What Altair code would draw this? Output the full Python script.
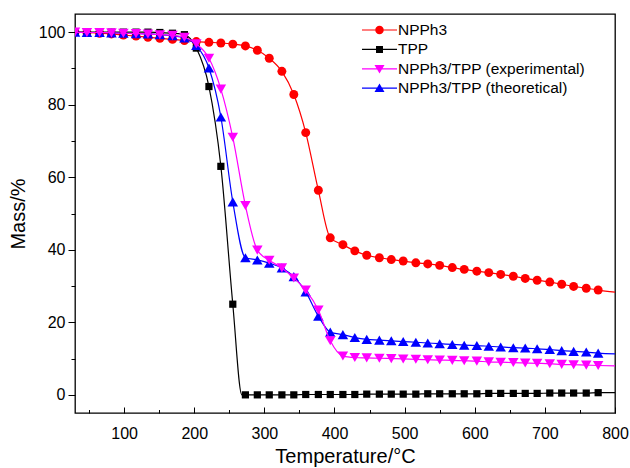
import altair as alt
import pandas as pd

# ---- data -----------------------------------------------------------------
series_names = ["NPPh3", "TPP", "NPPh3/TPP (experimental)", "NPPh3/TPP (theoretical)"]
series_colors = ["#ff0000", "#000000", "#ff00ff", "#0000ff"]
series_shapes = ["circle", "square", "triangle-down", "triangle-up"]

# temperatures (°C) of the plotted symbols
temps = [30, 47, 65, 82, 99, 117, 134, 151, 169, 186,
         203, 221, 238, 255, 273, 290, 307, 325, 342, 359,
         377, 394, 412, 429, 446, 464, 481, 498, 516, 533,
         550, 568, 585, 603, 620, 637, 655, 672, 689, 707,
         724, 741, 759, 776]

mass_npph3 = [100.0, 99.9, 99.7, 99.5, 99.2, 98.9, 98.6, 98.3, 98.0, 97.7,
              97.4, 97.2, 97.0, 96.7, 96.2, 95.0, 92.8, 89.2, 82.8, 72.3,
              56.4, 43.3, 41.4, 39.7, 38.5, 37.8, 37.3, 36.9, 36.4, 36.1,
              35.7, 35.1, 34.6, 34.1, 33.7, 33.2, 32.7, 32.1, 31.6, 31.1,
              30.5, 29.9, 29.4, 28.9]

mass_tpp = [100.0, 100.0, 100.0, 100.0, 100.0, 100.0, 100.0, 99.9, 99.7, 99.3,
            95.6, 85.0, 63.0, 25.0, 0.0, 0.0, 0.0, 0.0, 0.0, 0.1,
            0.1, 0.1, 0.1, 0.1, 0.2, 0.2, 0.2, 0.2, 0.2, 0.3,
            0.3, 0.3, 0.3, 0.3, 0.4, 0.4, 0.4, 0.4, 0.4, 0.5,
            0.5, 0.5, 0.5, 0.6]

mass_experimental = [100.0, 99.9, 99.9, 99.8, 99.7, 99.6, 99.5, 99.3, 99.1, 98.6,
                     96.8, 92.8, 84.3, 71.0, 52.2, 39.9, 37.1, 35.0, 32.2, 28.9,
                     23.4, 14.9, 10.7, 10.3, 10.2, 10.1, 10.0, 9.9, 9.8, 9.7,
                     9.6, 9.5, 9.4, 9.3, 9.1, 9.0, 8.9, 8.8, 8.7, 8.6,
                     8.4, 8.3, 8.2, 8.1]

mass_theoretical = [100.0, 99.9, 99.9, 99.8, 99.7, 99.6, 99.5, 99.3, 99.0, 98.4,
                    96.3, 90.1, 76.6, 53.2, 37.8, 37.2, 36.3, 35.0, 32.6, 28.4,
                    21.7, 17.3, 16.6, 15.8, 15.3, 15.1, 14.9, 14.7, 14.5, 14.3,
                    14.1, 13.9, 13.7, 13.6, 13.4, 13.2, 13.0, 12.9, 12.7, 12.5,
                    12.2, 12.0, 11.8, 11.5]

# each curve runs on to the end of the temperature range
end_temp = 800
end_mass = [28.3, 0.6, 8.0, 11.3]

# TPP is fully decomposed slightly before its next symbol
tpp_zero_temp = 268
tpp_zero_mass = 0.0

# ---- tables ---------------------------------------------------------------
mass_lists = [mass_npph3, mass_tpp, mass_experimental, mass_theoretical]
rows = []
for name, masses in zip(series_names, mass_lists):
    for t, m in zip(temps, masses):
        rows.append({"series": name, "T": t, "mass": m})
symbols = pd.DataFrame(rows)

line_rows = list(rows)
for name, m in zip(series_names, end_mass):
    line_rows.append({"series": name, "T": end_temp, "mass": m})
line_rows.append({"series": "TPP", "T": tpp_zero_temp, "mass": tpp_zero_mass})
curves = pd.DataFrame(line_rows)

# ---- scales / styling -----------------------------------------------------
FONT = "Liberation Sans"
PLOT_W, PLOT_H = 540, 399

x_scale = alt.Scale(domain=[30, 800], nice=False, zero=False)
y_scale = alt.Scale(domain=[-5, 105], nice=False, zero=False)
color_scale = alt.Scale(domain=series_names, range=series_colors)

# legend glyph: a short line with the series symbol in its middle
bar = "M-2.06,-0.07H2.06V0.07H-2.06Z "
legend_glyphs = [
    bar + "M0.5,0A0.5,0.5,0,1,1,-0.5,0A0.5,0.5,0,1,1,0.5,0Z",
    bar + "M-0.41,-0.41H0.41V0.41H-0.41Z",
    bar + "M-0.59,-0.45L0.59,-0.45L0,0.55Z",
    bar + "M0,-0.55L0.59,0.45L-0.59,0.45Z",
]

major_x = [100, 200, 300, 400, 500, 600, 700, 800]
minor_x = [50, 150, 250, 350, 450, 550, 650, 750]
major_y = [0, 20, 40, 60, 80, 100]
minor_y = [10, 30, 50, 70, 90]

# axes, handed out one per layer (layers resolve their axes independently)
main_x = alt.Axis(
    orient="bottom", values=major_x, ticks=False, domain=False, grid=False,
    labelFlush=False, labelFont=FONT, labelFontSize=16, labelColor="black",
    labelPadding=12,
    title="Temperature/°C", titleFont=FONT, titleFontSize=20,
    titleFontWeight="normal", titleColor="black", titlePadding=5)
main_y = alt.Axis(
    orient="left", values=major_y, tickSize=7, tickColor="black", tickWidth=1,
    domain=False, grid=False, labelFlush=False, labelFont=FONT, labelFontSize=16,
    labelColor="black", labelPadding=3,
    title="Mass/%", titleFont=FONT, titleFontSize=20,
    titleFontWeight="normal", titleColor="black", titlePadding=10)
# inward ticks along the bottom edge: a top axis pushed down by the plot height
major_x_ticks = alt.Axis(
    orient="top", offset=-PLOT_H, values=major_x, tickSize=6, tickColor="black",
    tickWidth=1, labels=False, domain=False, grid=False, title="")
minor_x_ticks = alt.Axis(
    orient="top", offset=-PLOT_H, values=minor_x, tickSize=3.5, tickColor="black",
    tickWidth=1, labels=False, domain=False, grid=False, title="")
minor_y_ticks = alt.Axis(
    orient="left", values=minor_y, tickSize=4, tickColor="black", tickWidth=1,
    labels=False, domain=False, grid=False, title="")

axes_for_layer = [(main_x, main_y), (major_x_ticks, minor_y_ticks), (minor_x_ticks, None)]

sizes = {"circle": 80, "square": 52, "triangle-down": 110, "triangle-up": 110}
draw_order = [0, 1, 3, 2]

layers = []
for idx in draw_order:
    name = series_names[idx]
    colour = series_colors[idx]
    shape = series_shapes[idx]
    for kind in ("line", "point"):
        k = len(layers)
        xa, ya = axes_for_layer[k] if k < len(axes_for_layer) else (None, None)
        enc_x = alt.X("T:Q", scale=x_scale, axis=xa)
        enc_y = alt.Y("mass:Q", scale=y_scale, axis=ya)
        if kind == "line":
            layer = alt.Chart(curves).transform_filter(
                alt.datum.series == name
            ).mark_line(
                strokeWidth=1.2, interpolate="monotone", clip=True, color=colour
            ).encode(x=enc_x, y=enc_y)
        else:
            layer = alt.Chart(symbols).transform_filter(
                alt.datum.series == name
            ).mark_point(
                shape=shape, filled=True, size=sizes[shape], opacity=1,
                clip=True, color=colour
            ).encode(x=enc_x, y=enc_y)
        layers.append(layer)

legend_spec = alt.Legend(
    orient="none", legendX=296, legendY=7.5, title=None, padding=0,
    labelFont=FONT, labelFontSize=15.5, labelColor="black", labelLimit=0,
    labelOffset=10, symbolSize=289, symbolStrokeWidth=0, symbolOpacity=1,
    rowPadding=2.4,
)

# legend-only layer: nothing is drawn, the scales produce the key
legend_layer = alt.Chart(symbols).transform_filter("false").mark_point(
    filled=True, size=289, opacity=1
).encode(
    x=alt.X("T:Q", scale=x_scale, axis=None),
    y=alt.Y("mass:Q", scale=y_scale, axis=None),
    color=alt.Color("series:N", scale=color_scale, legend=legend_spec),
    shape=alt.Shape("series:N", scale=alt.Scale(domain=series_names, range=legend_glyphs),
                    legend=legend_spec),
)

chart = alt.layer(*layers, legend_layer).resolve_axis(
    x="independent", y="independent"
).properties(
    width=PLOT_W, height=PLOT_H,
    autosize=alt.AutoSizeParams(type="none"),
    padding={"left": 75, "top": 14, "right": 15, "bottom": 55},
    background="white",
).configure_view(
    stroke="black", strokeWidth=1.3
)

chart.save("out.html", embed_options={"renderer": "svg", "actions": False})
